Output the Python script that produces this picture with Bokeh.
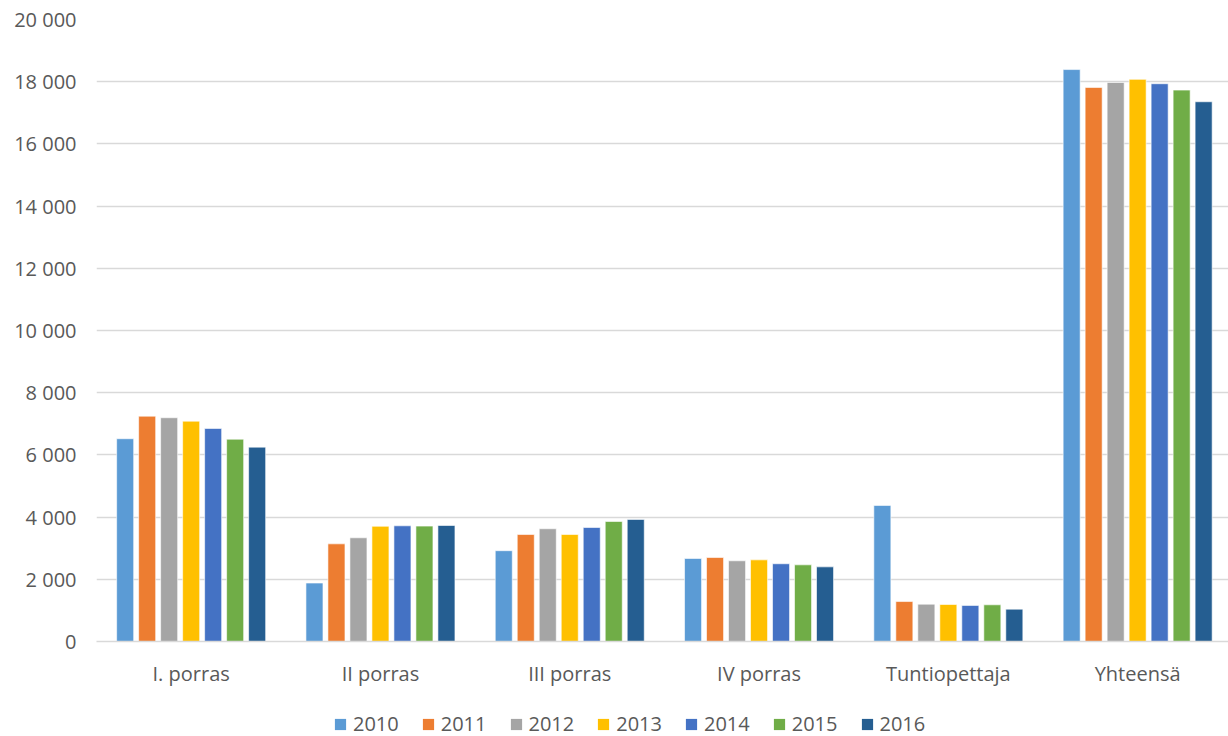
from bokeh.plotting import figure
from bokeh.layouts import column
from bokeh.models import ColumnDataSource, Range1d, FixedTicker, Legend, LegendItem
from bokeh.embed import file_html
from bokeh.resources import INLINE

# Staff counts per salary step, 2010-2016
categories = ["I. porras", "II porras", "III porras", "IV porras", "Tuntiopettaja", "Yhteensä"]
years = ["2010", "2011", "2012", "2013", "2014", "2015", "2016"]
v2010 = [6520, 1880, 2920, 2670, 4375, 18390]
v2011 = [7245, 3140, 3440, 2700, 1285, 17815]
v2012 = [7195, 3335, 3625, 2595, 1200, 17975]
v2013 = [7085, 3705, 3440, 2625, 1190, 18075]
v2014 = [6850, 3720, 3665, 2500, 1160, 17935]
v2015 = [6505, 3710, 3860, 2465, 1180, 17730]
v2016 = [6250, 3730, 3925, 2400, 1040, 17355]
series = [v2010, v2011, v2012, v2013, v2014, v2015, v2016]
colors = ["#5B9BD5", "#ED7D31", "#A5A5A5", "#FFC000", "#4472C4", "#70AD47", "#255E91"]
y_ticks = [0, 2000, 4000, 6000, 8000, 10000, 12000, 14000, 16000, 18000, 20000]
y_tick_labels = ["0", "2 000", "4 000", "6 000", "8 000", "10 000", "12 000",
                 "14 000", "16 000", "18 000", "20 000"]

FONT = "Open Sans"
TEXT = "#595959"
GRID = "#D9D9D9"
FS = "20px"

p = figure(frame_width=1132, frame_height=622, output_backend="svg", toolbar_location=None,
           x_range=Range1d(-0.5, 5.48), y_range=Range1d(0, 20000),
           min_border_left=96, min_border_right=0, min_border_top=19,
           min_border_bottom=30)
p.outline_line_color = None
p.background_fill_color = "white"
p.border_fill_color = "white"

slot = 0.1162
bar_w = 0.09
for i, (vals, col) in enumerate(zip(series, colors)):
    off = (i - 3) * slot
    src = ColumnDataSource(dict(x=[k + off for k in range(len(categories))], top=vals))
    p.vbar(x="x", top="top", width=bar_w, source=src, fill_color=col,
           line_color="white", line_width=0.6)

# y axis
p.yaxis.ticker = FixedTicker(ticks=y_ticks)
p.yaxis.major_label_overrides = {t: s for t, s in zip(y_ticks, y_tick_labels)}
p.yaxis.axis_line_color = None
p.yaxis.major_tick_line_color = None
p.yaxis.minor_tick_line_color = None
p.yaxis.major_label_text_font = FONT
p.yaxis.major_label_text_font_size = FS
p.yaxis.major_label_text_color = TEXT
p.yaxis.major_label_standoff = 14

# x axis
p.xaxis.ticker = FixedTicker(ticks=list(range(len(categories))))
p.xaxis.major_label_overrides = {i: c for i, c in enumerate(categories)}
p.xaxis.axis_line_color = GRID
p.xaxis.axis_line_width = 1.5
p.xaxis.major_tick_line_color = None
p.xaxis.minor_tick_line_color = None
p.xaxis.major_tick_out = 0
p.xaxis.major_tick_in = 0
p.xaxis.major_label_text_font = FONT
p.xaxis.major_label_text_font_size = FS
p.xaxis.major_label_text_color = TEXT
p.xaxis.major_label_standoff = 18

p.xgrid.grid_line_color = None
p.ygrid.grid_line_color = GRID
p.ygrid.grid_line_width = 1.5

# Legend strip under the chart (swatch renderers hold a zero-height bar)
leg = figure(width=1228, height=48, output_backend="svg", toolbar_location=None,
             x_range=Range1d(0, 1), y_range=Range1d(0, 1),
             min_border=0)
leg.axis.visible = False
leg.grid.visible = False
leg.outline_line_color = None
items = []
for yr, col in zip(years, colors):
    r = leg.vbar(x=[0.5], top=[0], bottom=[0], width=0.01, fill_color=col, line_color=None)
    items.append(LegendItem(label=yr, renderers=[r]))
legend = Legend(items=items, orientation="horizontal", location=(237, 0),
                label_text_font=FONT, label_text_font_size=FS,
                label_text_color=TEXT, glyph_width=14, glyph_height=14,
                label_standoff=6, spacing=22, padding=0, margin=0,
                border_line_color=None, background_fill_alpha=0)
leg.add_layout(legend, "center")

layout = column(p, leg, spacing=0)
open("out.html", "w").write(file_html(layout, INLINE))
